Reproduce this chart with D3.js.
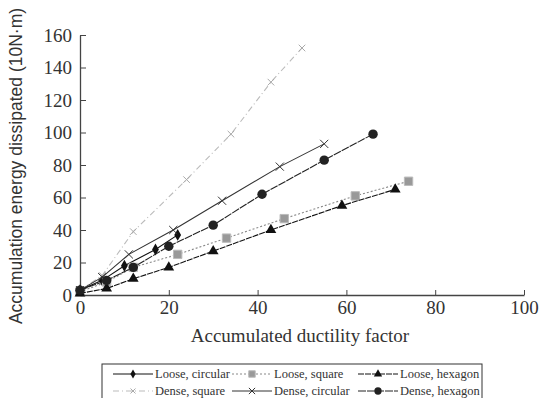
<!DOCTYPE html>
<html>
<head>
<meta charset="utf-8">
<script src="https://cdn.jsdelivr.net/npm/d3@7"></script>
<style>
  body { margin: 0; background: #fff; }
  .tick text { font-family: "Liberation Serif", serif; font-size: 19px; fill: #333; }
  .domain, .tick line { stroke: #444; }
</style>
</head>
<body>
<script>
"use strict";

var width = 542, height = 398;
var margin = { left: 80, right: 18, top: 35, bottom: 103 };

var xTicks = [0, 20, 40, 60, 80, 100];
var yTicks = [0, 20, 40, 60, 80, 100, 120, 140, 160];

// [ductility factor, energy]
var looseCircular = [[0, 3], [5, 9], [10, 18], [17, 28], [22, 37]];
var looseSquare = [[0, 2], [6, 8], [12, 17], [22, 25], [33, 35], [46, 47], [62, 61], [74, 70]];
var looseHexagon = [[0, 1], [6, 4], [12, 10], [20, 17], [30, 27], [43, 40], [59, 55], [71, 65]];
var denseSquare = [[0, 3], [5, 12], [12, 39], [24, 71], [34, 99], [43, 131], [50, 152]];
var denseCircular = [[0, 3], [5, 11], [11, 25], [21, 40], [32, 58], [45, 79], [55, 93]];
var denseHexagon = [[0, 3], [6, 9], [12, 17], [20, 30], [30, 43], [41, 62], [55, 83], [66, 99]];

var series = [
  { name: "Loose, circular", data: looseCircular, stroke: "#111", dash: null, marker: "diamond", fill: "#111", size: 40 },
  { name: "Loose, square", data: looseSquare, stroke: "#888", dash: "2,2", marker: "square", fill: "#999", size: 70 },
  { name: "Loose, hexagon", data: looseHexagon, stroke: "#111", dash: "6,1", marker: "triangle", fill: "#111", size: 50 },
  { name: "Dense, square", data: denseSquare, stroke: "#bbb", dash: "6,3,1,3", marker: "tick", fill: "#aaa", size: 30 },
  { name: "Dense, circular", data: denseCircular, stroke: "#333", dash: null, marker: "cross", fill: "#333", size: 45 },
  { name: "Dense, hexagon", data: denseHexagon, stroke: "#222", dash: "8,1", marker: "circle", fill: "#222", size: 70 }
];

var svg = d3.select("body")
  .append("svg")
  .attr("width", width)
  .attr("height", height);

var x = d3.scaleLinear().domain([0, 100]).range([margin.left, width - margin.right]);
var y = d3.scaleLinear().domain([0, 160]).range([height - margin.bottom, margin.top]);

svg.append("g")
  .attr("transform", "translate(0," + y(0) + ")")
  .call(d3.axisBottom(x).tickValues(xTicks).tickSizeInner(-5).tickSizeOuter(0).tickPadding(6));

svg.append("g")
  .attr("transform", "translate(" + x(0) + ",0)")
  .call(d3.axisLeft(y).tickValues(yTicks).tickSizeInner(-6).tickSizeOuter(0).tickPadding(8));

svg.selectAll(".domain").attr("stroke-width", 1.3);

svg.append("text")
  .attr("x", 300)
  .attr("y", 342)
  .attr("text-anchor", "middle")
  .attr("font-family", "Liberation Serif, serif")
  .attr("font-size", 19)
  .attr("fill", "#333")
  .text("Accumulated ductility factor");

svg.append("text")
  .attr("transform", "translate(22,166) rotate(-90)")
  .attr("text-anchor", "middle")
  .attr("font-family", "Liberation Sans, sans-serif")
  .attr("font-size", 17.5)
  .attr("fill", "#333")
  .text("Accumulation energy dissipated (10N\u00b7m)");

function symbolFor(s) {
  var type = { diamond: d3.symbolDiamond, square: d3.symbolSquare, triangle: d3.symbolTriangle,
    circle: d3.symbolCircle, cross: d3.symbolCross, tick: d3.symbolCross }[s.marker];
  return d3.symbol().type(type).size(s.size)();
}

function drawMarker(g, s) {
  if (s.marker === "cross" || s.marker === "tick") {
    g.append("path").attr("d", d3.symbol().type(d3.symbolX).size(s.size)())
      .attr("fill", "none").attr("stroke", s.fill).attr("stroke-width", 1);
  } else {
    g.append("path").attr("d", symbolFor(s)).attr("fill", s.fill)
      .attr("stroke", s.marker === "square" ? "#bbb" : "none");
  }
}

var line = d3.line().x(function (d) { return x(d[0]); }).y(function (d) { return y(d[1]); });

series.forEach(function (s) {
  svg.append("path")
    .datum(s.data)
    .attr("d", line)
    .attr("fill", "none")
    .attr("stroke", s.stroke)
    .attr("stroke-width", 1.1)
    .attr("stroke-dasharray", s.dash);

  svg.selectAll(null)
    .data(s.data)
    .enter()
    .append("g")
    .attr("transform", function (d) { return "translate(" + x(d[0]) + "," + y(d[1]) + ")"; })
    .each(function () { drawMarker(d3.select(this), s); });
});

// legend
var legend = svg.append("g").attr("transform", "translate(102,364)");
legend.append("rect")
  .attr("width", 380).attr("height", 40)
  .attr("fill", "#fff").attr("stroke", "#333").attr("stroke-width", 1);

var colX = [11, 130, 256];
var rowY = [10, 27];
series.forEach(function (s, i) {
  var col = i % 3, row = Math.floor(i / 3);
  var g = legend.append("g").attr("transform", "translate(" + colX[col] + "," + rowY[row] + ")");
  g.append("line").attr("x1", 0).attr("x2", 40).attr("y1", 0).attr("y2", 0)
    .attr("stroke", s.stroke).attr("stroke-width", 1).attr("stroke-dasharray", s.dash);
  var m = g.append("g").attr("transform", "translate(20,0)");
  drawMarker(m, { marker: s.marker, fill: s.fill, size: s.size * 0.6 });
  g.append("text").attr("x", 42).attr("y", 4)
    .attr("font-family", "Liberation Serif, serif")
    .attr("font-size", 12.5)
    .attr("fill", "#333")
    .text(s.name);
});
</script>
</body>
</html>
